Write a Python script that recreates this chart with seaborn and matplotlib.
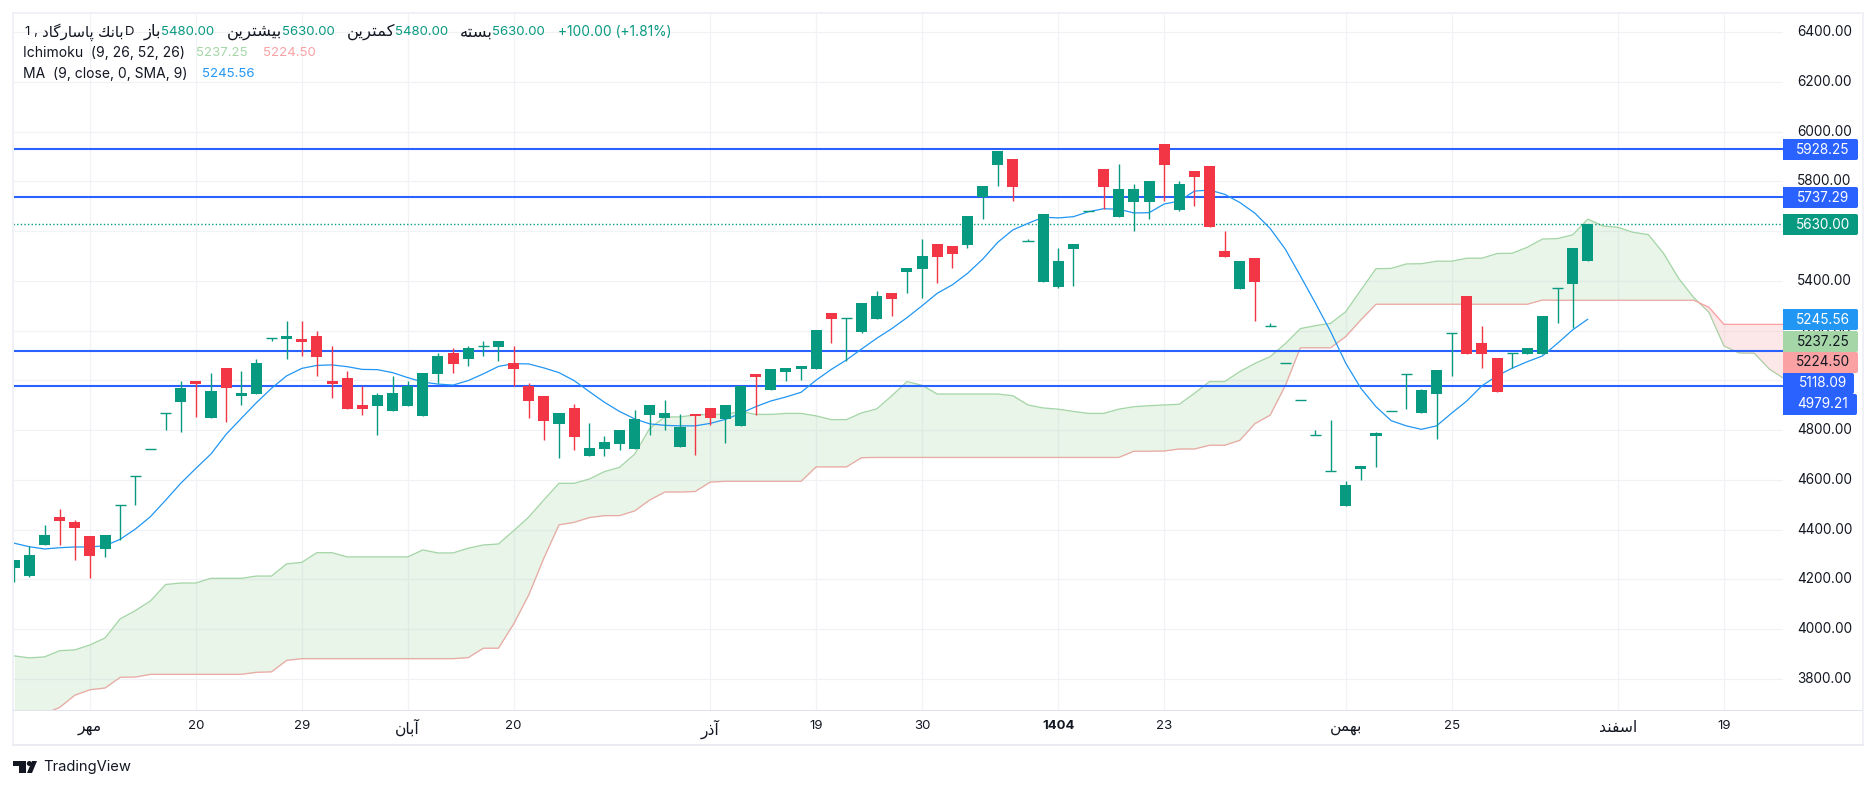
import numpy as np
import pandas as pd
import seaborn as sns
import matplotlib.pyplot as plt
from matplotlib.patches import FancyBboxPatch, Rectangle, Circle, Polygon
from matplotlib.transforms import IdentityTransform

# daily candles
opens = [4247, 4214, 4338, 4451, 4431, 4374, 4322, 4498, 4616, 4723, 4867, 4913, 4997, 4849, 5050, 4937, 4945, 5169, 5166, 5166,
         5178, 4997, 5009, 4901, 4897, 4877, 4897, 4857, 5026, 5110, 5086, 5137, 5134, 5070, 4979, 4937, 4825, 4889, 4696, 4724,
         4744, 4724, 4861, 4849, 4732, 4865, 4889, 4845, 4817, 5026, 4961, 5034, 5046, 5046, 5271, 5249, 5194, 5247, 5351, 5436,
         5448, 5548, 5540, 5544, 5737, 5866, 5890, 5559, 5396, 5376, 5528, 5680, 5850, 5657, 5717, 5717, 5950, 5685, 5842, 5862,
         5520, 5367, 5492, 5217, 5069, 4920, 4779, 4634, 4495, 4644, 4777, 4876, 5024, 4869, 4945, 5189, 5339, 5150, 5090, 5109,
         5106, 5106, 5370, 5388, 5480]
highs = [4278, 4334, 4418, 4483, 4439, 4374, 4378, 4498, 4616, 4723, 4867, 4997, 4997, 5030, 5050, 5038, 5086, 5169, 5239, 5239,
         5198, 5138, 5038, 4977, 4949, 5018, 4997, 5030, 5110, 5130, 5138, 5158, 5158, 5138, 4988, 4937, 4869, 4905, 4829, 4776,
         4800, 4881, 4901, 4921, 4865, 4865, 4889, 4901, 4979, 5026, 5046, 5050, 5058, 5202, 5271, 5249, 5311, 5359, 5351, 5452,
         5568, 5548, 5540, 5661, 5782, 5922, 5890, 5568, 5669, 5532, 5548, 5680, 5850, 5870, 5790, 5802, 5950, 5802, 5842, 5862,
         5601, 5480, 5492, 5231, 5069, 4920, 4801, 4841, 4596, 4656, 4793, 4876, 5024, 4965, 5042, 5189, 5339, 5219, 5090, 5109,
         5130, 5259, 5370, 5532, 5630]
lows = [4191, 4209, 4338, 4338, 4278, 4205, 4290, 4358, 4499, 4723, 4800, 4792, 4853, 4849, 4833, 4901, 4945, 5158, 5086, 5098,
        5018, 4929, 4885, 4861, 4780, 4877, 4897, 4857, 4989, 5030, 5058, 5098, 5078, 4977, 4849, 4760, 4688, 4720, 4696, 4696,
        4720, 4724, 4780, 4800, 4732, 4700, 4821, 4748, 4817, 4861, 4961, 4997, 5001, 5046, 5150, 5078, 5190, 5247, 5259, 5351,
        5331, 5392, 5452, 5532, 5649, 5782, 5721, 5559, 5396, 5371, 5380, 5680, 5689, 5657, 5601, 5649, 5721, 5681, 5701, 5617,
        5496, 5367, 5239, 5217, 5069, 4920, 4779, 4634, 4495, 4600, 4652, 4876, 4885, 4869, 4764, 5018, 5106, 5050, 4953, 5050,
        5106, 5106, 5231, 5211, 5480]
closes = [4278, 4298, 4378, 4435, 4406, 4294, 4378, 4498, 4616, 4723, 4867, 4969, 4985, 4957, 4969, 4949, 5070, 5169, 5178, 5154,
          5094, 4985, 4885, 4885, 4941, 4949, 4977, 5030, 5098, 5066, 5130, 5137, 5158, 5046, 4917, 4837, 4869, 4772, 4728, 4752,
          4800, 4845, 4901, 4869, 4813, 4857, 4849, 4901, 4979, 5014, 5046, 5050, 5058, 5202, 5247, 5249, 5311, 5339, 5327, 5452,
          5500, 5496, 5508, 5661, 5782, 5922, 5778, 5559, 5669, 5480, 5548, 5680, 5778, 5769, 5769, 5802, 5866, 5790, 5818, 5617,
          5496, 5480, 5396, 5217, 5069, 4920, 4779, 4634, 4580, 4656, 4789, 4876, 5024, 4961, 5042, 5189, 5106, 5106, 4953, 5109,
          5130, 5259, 5370, 5532, 5630]

ma9 = [4345, 4331, 4322, 4327, 4330, 4330, 4335, 4361, 4402, 4452, 4518, 4586, 4646, 4704, 4783, 4847, 4910, 4968, 5018, 5048,
       5060, 5062, 5055, 5044, 5043, 5031, 5011, 4993, 4985, 4981, 4999, 5026, 5056, 5067, 5066, 5050, 5031, 4999, 4955, 4912,
       4875, 4845, 4825, 4819, 4817, 4817, 4827, 4843, 4867, 4894, 4917, 4933, 4952, 5001, 5044, 5082, 5126, 5169, 5208, 5252,
       5300, 5350, 5384, 5430, 5487, 5555, 5605, 5631, 5656, 5653, 5658, 5678, 5690, 5688, 5673, 5674, 5709, 5721, 5761, 5765,
       5748, 5715, 5672, 5611, 5528, 5420, 5310, 5196, 5069, 4968, 4894, 4838, 4817, 4803, 4817, 4868, 4917, 4978, 5018, 5049,
       5075, 5098, 5149, 5203, 5246]

span_a = [3892, 3884, 3888, 3913, 3916, 3936, 3964, 4041, 4074, 4113, 4179, 4185, 4185, 4204, 4204, 4204, 4213, 4213, 4262, 4268,
          4307, 4307, 4290, 4290, 4290, 4290, 4290, 4318, 4306, 4306, 4325, 4338, 4342, 4395, 4450, 4519, 4586, 4586, 4603, 4633,
          4650, 4703, 4807, 4853, 4853, 4861, 4863, 4863, 4875, 4863, 4863, 4867, 4867, 4857, 4842, 4842, 4869, 4885, 4938, 4995,
          4980, 4945, 4945, 4945, 4945, 4945, 4938, 4901, 4889, 4884, 4875, 4867, 4867, 4884, 4894, 4898, 4901, 4904, 4948, 4995,
          4995, 5035, 5068, 5095, 5147, 5208, 5220, 5229, 5276, 5363, 5449, 5450, 5468, 5469, 5479, 5479, 5491, 5491, 5510, 5511,
          5535, 5568, 5570, 5585, 5648, 5621, 5615, 5595, 5586, 5511, 5410, 5333, 5274, 5138, 5110, 5109, 5045, 5006]
span_b = [3640, 3640, 3660, 3685, 3734, 3756, 3763, 3806, 3807, 3818, 3818, 3818, 3818, 3818, 3818, 3818, 3826, 3828, 3874, 3881,
          3881, 3881, 3881, 3881, 3881, 3881, 3881, 3881, 3881, 3881, 3885, 3923, 3923, 4020, 4137, 4285, 4419, 4429, 4448, 4456,
          4456, 4475, 4519, 4551, 4551, 4553, 4591, 4594, 4594, 4594, 4594, 4594, 4594, 4652, 4652, 4652, 4689, 4690, 4690, 4690,
          4690, 4690, 4690, 4690, 4690, 4690, 4690, 4690, 4690, 4690, 4690, 4690, 4690, 4690, 4715, 4715, 4716, 4724, 4724, 4739,
          4739, 4759, 4826, 4860, 4978, 5131, 5131, 5131, 5176, 5243, 5306, 5306, 5306, 5306, 5306, 5306, 5306, 5306, 5306, 5306,
          5306, 5323, 5322, 5322, 5322, 5322, 5322, 5322, 5322, 5322, 5322, 5322, 5294, 5225, 5225, 5225, 5225, 5225]

levels = [5928.25, 5737.29, 5118.09, 4979.21]
last_price = 5630.00
price_ticks = [6400, 6200, 6000, 5800, 5600, 5400, 5200, 5000, 4800, 4600, 4400, 4200, 4000, 3800]
time_ticks = [5, 12, 19, 26, 33, 46, 53, 60, 69, 76, 88, 95, 106, 113]
time_labels = ['مهر', '20', '29', 'آبان', '20', 'آذر', '19', '30', '1404', '23', 'بهمن', '25', 'اسفند', '19']

GREEN = '#089981'
RED = '#F23645'
BLUE = '#2962FF'
MA_BLUE = '#2196F3'
CLOUD_UP = '#A5D6A7'
CLOUD_DN = '#FAA1A4'
DARK = '#131722'
W, H = 1876, 789

# isolated, final, initial, medial; matplotlib does no arabic shaping by itself
FORMS = {
    'ا': (0xFE8D, 0xFE8E), 'آ': (0xFE81, 0xFE82), 'د': (0xFEA9, 0xFEAA), 'ذ': (0xFEAB, 0xFEAC),
    'ر': (0xFEAD, 0xFEAE), 'ز': (0xFEAF, 0xFEB0),
    'ب': (0xFE8F, 0xFE90, 0xFE91, 0xFE92), 'پ': (0xFB56, 0xFB57, 0xFB58, 0xFB59),
    'ت': (0xFE95, 0xFE96, 0xFE97, 0xFE98), 'س': (0xFEB1, 0xFEB2, 0xFEB3, 0xFEB4),
    'ش': (0xFEB5, 0xFEB6, 0xFEB7, 0xFEB8), 'ف': (0xFED1, 0xFED2, 0xFED3, 0xFED4),
    'ك': (0xFED9, 0xFEDA, 0xFEDB, 0xFEDC), 'گ': (0xFB92, 0xFB93, 0xFB94, 0xFB95),
    'م': (0xFEE1, 0xFEE2, 0xFEE3, 0xFEE4), 'ن': (0xFEE5, 0xFEE6, 0xFEE7, 0xFEE8),
    'ه': (0xFEE9, 0xFEEA, 0xFEEB, 0xFEEC), 'ی': (0xFBFC, 0xFBFD, 0xFBFE, 0xFBFF),
}


def is_fa(text):
    return any(ch in FORMS for ch in text)


def fa(text):
    if not is_fa(text):
        return text
    out = []
    for i, ch in enumerate(text):
        if ch not in FORMS:
            out.append(ch)
            continue
        prev = text[i - 1] if i > 0 else ' '
        nxt = text[i + 1] if i + 1 < len(text) else ' '
        joins_prev = prev in FORMS and len(FORMS[prev]) == 4
        joins_next = len(FORMS[ch]) == 4 and nxt in FORMS
        idx = {(False, False): 0, (True, False): 1, (False, True): 2, (True, True): 3}[(joins_prev, joins_next)]
        out.append(chr(FORMS[ch][idx]))
    return ''.join(reversed(out))


sns.set_theme(style="white")
plt.rcParams['font.family'] = ['Inter', 'DejaVu Sans']
plt.rcParams['font.size'] = 9.5

fig = plt.figure(figsize=(W / 100, H / 100), dpi=100, facecolor='white')
ax = fig.add_axes([13 / W, 1 - 710 / H, 1770 / W, 697 / H])

candles = pd.DataFrame({'bar': range(len(opens)), 'open': opens, 'high': highs, 'low': lows, 'close': closes})
candles['color'] = np.where(candles['close'] >= candles['open'], GREEN, RED)
cloud = pd.DataFrame({'bar': range(len(span_a)), 'a': span_a, 'b': span_b})

# ichimoku cloud, the fill goes over its lines
sns.lineplot(data=cloud, x='bar', y='a', ax=ax, color=CLOUD_UP, linewidth=0.95, estimator=None, zorder=2)
sns.lineplot(data=cloud, x='bar', y='b', ax=ax, color=CLOUD_DN, linewidth=0.95, estimator=None, zorder=2)
ax.fill_between(cloud['bar'], cloud['a'], cloud['b'], where=cloud['a'] >= cloud['b'], interpolate=True,
                color=CLOUD_UP, alpha=0.24, linewidth=0, zorder=2.2)
ax.fill_between(cloud['bar'], cloud['a'], cloud['b'], where=cloud['a'] <= cloud['b'], interpolate=True,
                color=CLOUD_DN, alpha=0.24, linewidth=0, zorder=2.2)

for level in levels:
    ax.axhline(level, color=BLUE, linewidth=1.5, zorder=2.5)
ax.axhline(last_price, color=GREEN, linewidth=1.0, linestyle=(0, (1, 1.6)), zorder=2.5)

sns.lineplot(x=list(range(len(ma9))), y=ma9, ax=ax, color=MA_BLUE, linewidth=0.9, estimator=None, zorder=2.6)

# candles on top of everything else
ax.vlines(candles['bar'], candles['low'], candles['high'], colors=candles['color'], linewidth=1.0, zorder=3)
body = (candles['close'] - candles['open']).abs()
ax.bar(candles['bar'], body, bottom=candles[['open', 'close']].min(axis=1), width=0.73,
       color=candles['color'], linewidth=0, zorder=3)
flat = candles[body == 0]
ax.hlines(flat['close'], flat['bar'] - 0.365, flat['bar'] + 0.365, colors=flat['color'], linewidth=1.0, zorder=3)

ax.set_xlim(-0.086, 116.9)
ax.set_ylim(3674.5, 6477)
ax.set_xlabel('')
ax.set_ylabel('')
ax.set_xticks(time_ticks)
ax.set_xticklabels([fa(t) for t in time_labels], color=DARK, fontsize=9.5)
for tick, name in zip(ax.get_xticklabels(), time_labels):
    if is_fa(name):
        tick.set_fontsize(11.2)
ax.get_xticklabels()[8].set_fontweight('bold')
ax.yaxis.tick_right()
ax.set_yticks(price_ticks)
ax.set_yticklabels([f'{p:.2f}' for p in price_ticks], color=DARK, fontsize=9.8, ha='left', va='center')
ax.tick_params(axis='both', length=0)
ax.tick_params(axis='x', pad=7)
ax.tick_params(axis='y', pad=10)
ax.grid(True, color='#F1F2F5', linewidth=0.9, zorder=0)
ax.set_axisbelow(True)
for side in ax.spines:
    ax.spines[side].set_visible(False)


def box(x0, y0, x1, y1, color):
    fig.add_artist(Rectangle((x0, H - y1), x1 - x0, y1 - y0, facecolor=color, edgecolor='none',
                             transform=IdentityTransform(), zorder=1))


def put(x, y, s, color=DARK, ha='left', **kw):
    fig.text(x / W, 1 - y / H, s, color=color, ha=ha, va='center', **kw)


def price_tag(y0, right, face, label, ink='white'):
    # square on the plot side, rounded on the outer side
    box(1783, y0, right - 4, y0 + 21, face)
    fig.add_artist(FancyBboxPatch((right - 10, H - y0 - 21), 10, 21, boxstyle='round,pad=0,rounding_size=2',
                                  facecolor=face, edgecolor='none', transform=IdentityTransform(), zorder=1))
    put(1823, y0 + 10.5, label, color=ink, ha='center', fontsize=9.8, zorder=4)


# frame around chart and time axis
box(12, 12, 1864, 14, '#F0F1F6')
box(12, 12, 14, 746, '#F0F1F6')
box(1862, 12, 1864, 746, '#F0F1F6')
box(12, 744, 1864, 746, '#EBECF2')
box(13, 709.5, 1863, 711, '#E0E3EB')

price_tag(139, 1858, BLUE, '5928.25')
price_tag(187, 1858, BLUE, '5737.29')
price_tag(214, 1858, GREEN, '5630.00')
price_tag(309, 1858, MA_BLUE, '5245.56')
price_tag(331, 1858, CLOUD_UP, '5237.25', ink=DARK)
price_tag(352, 1858, CLOUD_DN, '5224.50', ink=DARK)
price_tag(373, 1854, BLUE, '5118.09')
price_tag(394, 1857, BLUE, '4979.21')

# header rows
put(24.5, 32, '1 ,')
put(123, 32, fa('بانك پاسارگاد'), ha='right', fontsize=10.9)
put(125, 32, 'D')
put(160.7, 32, fa('باز'), ha='right', fontsize=11.8)
put(160.7, 32, '5480.00', color=GREEN)
put(282, 32, fa('بیشترین'), ha='right', fontsize=11.8)
put(282, 32, '5630.00', color=GREEN)
put(395, 32, fa('كمترین'), ha='right', fontsize=11.8)
put(395, 32, '5480.00', color=GREEN)
put(492.4, 32, fa('بسته'), ha='right', fontsize=11.8)
put(492.4, 32, '5630.00', color=GREEN)
put(558, 32, '+100.00 (+1.81%)', color=GREEN, fontsize=9.9)
put(23.2, 53, 'Ichimoku  (9, 26, 52, 26)', fontsize=10)
put(196.4, 53, '5237.25', color=CLOUD_UP)
put(262.5, 53, '5224.50', color=CLOUD_DN)
put(23.2, 74, 'MA  (9, close, 0, SMA, 9)', fontsize=10)
put(201.8, 74, '5245.56', color=MA_BLUE)

# TradingView mark and name
box(13, 761, 26, 766, DARK)
box(19, 761, 26, 773, DARK)
fig.add_artist(Circle((29.3, H - 763.5), 2.5, facecolor=DARK, edgecolor='none', transform=IdentityTransform(), zorder=1))
fig.add_artist(Polygon([(32, H - 761), (37, H - 761), (32, H - 773), (27, H - 773)], closed=True, facecolor=DARK,
                       edgecolor='none', transform=IdentityTransform(), zorder=1))
put(43, 767, 'TradingView', fontsize=10.6)

fig.savefig('out.png', dpi=100, facecolor='white')
